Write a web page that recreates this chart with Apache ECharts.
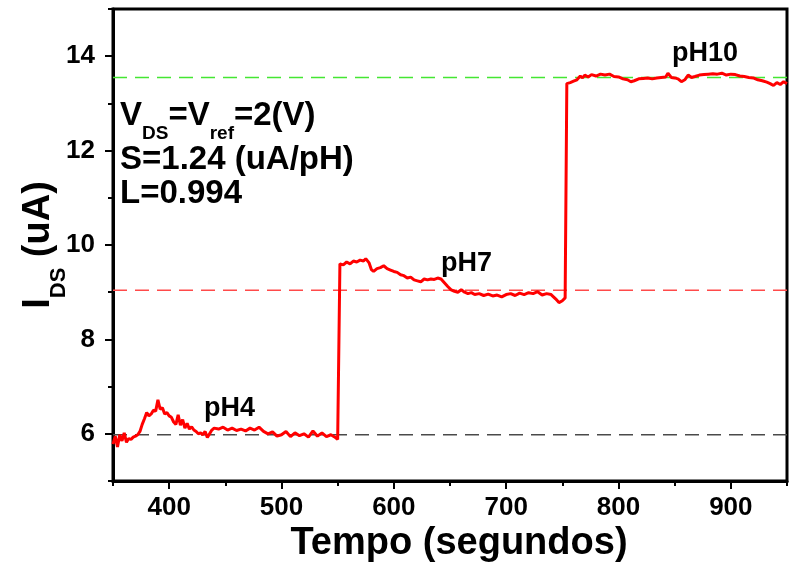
<!DOCTYPE html>
<html>
<head>
<meta charset="utf-8">
<script src="https://cdn.jsdelivr.net/npm/echarts@6/dist/echarts.min.js"></script>
<style>
html,body{margin:0;padding:0;background:#fff;}
#chart{width:792px;height:566px;}
</style>
</head>
<body>
<div id="chart"></div>
<script>
// Time (s) and drain current I_DS (uA)
const timeS = [
350,352,354,356,358,360,362,364,366,368,370,372,374,376,378,380,382,384,386,388,390,392,394,396,398,400,402,404,406,408,410,412,414,416,418,420,422,424,426,428,430,432,434,436,438,440,444,448,452,456,460,464,468,472,476,480,484,488,492,496,500,504,508,512,516,520,524,528,532,536,540,544,548,550,551.5,
552,555,558,561,564,567,570,573,575,578,580,582,585,588,591,594,597,600,603,606,609,612,615,618,621,624,627,630,633,636,639,642,645,648,651,654,657,660,663,666,669,672,676,680,684,688,692,696,700,704,708,712,716,720,724,728,732,736,740,744,747,750,752.5,
754,757,760,763,766,768,770,773,776,780,784,788,792,796,800,804,808,811,814,818,822,826,830,834,838,842,844,847,850,853,856,859,862,865,868,872,876,880,884,888,892,896,900,904,908,912,916,920,924,928,932,935,938,941,944,947,950
];
const currentUA = [
5.78,5.95,5.72,5.98,5.85,6.02,5.82,5.9,5.88,5.93,5.95,5.98,6.05,6.2,6.32,6.45,6.38,6.42,6.5,6.48,6.72,6.52,6.55,6.42,6.45,6.38,6.35,6.25,6.2,6.4,6.18,6.3,6.12,6.22,6.1,6.15,6.08,6.05,6.0,6.02,5.98,6.05,5.92,6.0,6.08,6.12,6.1,6.14,6.08,6.12,6.07,6.1,6.06,6.12,6.08,6.14,6.05,6.0,6.04,5.95,5.98,6.05,5.94,6.02,5.96,6.0,5.93,6.06,5.95,6.02,5.94,5.98,5.92,5.88,5.86,
9.6,9.58,9.64,9.6,9.66,9.64,9.68,9.66,9.71,9.62,9.48,9.44,9.5,9.52,9.56,9.5,9.47,9.44,9.42,9.37,9.35,9.3,9.32,9.26,9.24,9.22,9.28,9.26,9.28,9.27,9.3,9.28,9.2,9.12,9.05,9.02,9.0,9.05,9.0,8.97,8.99,8.95,8.97,8.93,8.96,8.92,8.94,8.9,8.95,8.97,8.93,8.98,8.95,8.99,8.97,9.01,8.94,8.97,8.95,8.86,8.78,8.82,8.88,
13.42,13.44,13.47,13.5,13.58,13.54,13.6,13.56,13.61,13.58,13.62,13.6,13.62,13.57,13.56,13.52,13.5,13.46,13.48,13.52,13.53,13.54,13.52,13.54,13.55,13.56,13.64,13.55,13.54,13.52,13.46,13.5,13.6,13.55,13.57,13.6,13.61,13.62,13.63,13.62,13.64,13.6,13.62,13.61,13.58,13.57,13.55,13.54,13.5,13.48,13.45,13.42,13.38,13.44,13.4,13.46,13.42
];
// Reference (mean) levels
const refLevels = [5.98, 9.04, 13.55];
const refRange = [350, 950];
// Axis ticks
const xLabelTicks = [400, 500, 600, 700, 800, 900];
const xMinorTicks = [350, 450, 550, 650, 750, 850, 950];
const yLabelTicks = [6, 8, 10, 12, 14];
const yMinorTicks = [5, 7, 9, 11, 13, 15];
const phLabels = ['pH4', 'pH7', 'pH10'];

const FONT = '"Liberation Sans", Arial, sans-serif';
const chart = echarts.init(document.getElementById('chart'), null, {renderer: 'canvas'});

const seriesData = timeS.map((t, i) => [t, currentUA[i]]);
const refColors = ['#4a4a4a', '#ff4a4a', '#44e633'];

const option = {
  animation: false,
  backgroundColor: '#ffffff',
  grid: {left: 113, right: 5, top: 9, bottom: 85, show: true, borderColor: '#000', borderWidth: 3, outerBoundsMode: 'none'},
  xAxis: [{
    type: 'value', min: 350, max: 950, position: 'bottom',
    name: 'Tempo (segundos)', nameLocation: 'middle', nameGap: 44, nameMoveOverlap: false,
    nameTextStyle: {fontFamily: FONT, fontWeight: 'bold', fontSize: 38, color: '#000', padding: [0, 0, 0, 18]},
    axisLine: {show: true, onZero: false, lineStyle: {color: '#000', width: 3}},
    axisTick: {show: true, inside: false, length: 5, customValues: xMinorTicks, lineStyle: {color: '#000', width: 2}},
    axisLabel: {show: true, customValues: xLabelTicks, margin: 14, fontFamily: FONT, fontWeight: 'bold', fontSize: 26, color: '#000'},
    splitLine: {show: false}
  }, {
    type: 'value', min: 350, max: 950, position: 'bottom',
    axisLine: {show: false, onZero: false},
    axisTick: {show: true, inside: false, length: 8, customValues: xLabelTicks, lineStyle: {color: '#000', width: 2}},
    axisLabel: {show: false},
    splitLine: {show: false}
  }],
  yAxis: [{
    type: 'value', min: 5, max: 15, position: 'left',
    name: '{i|I}{s|DS}{t| (uA)}', nameLocation: 'middle', nameGap: 43, nameRotate: 90, nameMoveOverlap: false,
    nameTextStyle: {
      rich: {
        i: {fontFamily: FONT, fontWeight: 'bold', fontSize: 38, color: '#000', padding: [0, 0, 12, 0], verticalAlign: 'bottom'},
        s: {fontFamily: FONT, fontWeight: 'bold', fontSize: 22, color: '#000', verticalAlign: 'bottom'},
        t: {fontFamily: FONT, fontWeight: 'bold', fontSize: 38, color: '#000', padding: [0, 0, 12, 0], verticalAlign: 'bottom'}
      }
    },
    axisLine: {show: true, onZero: false, lineStyle: {color: '#000', width: 3}},
    axisTick: {show: true, inside: false, length: 5, customValues: yMinorTicks, lineStyle: {color: '#000', width: 2}},
    axisLabel: {show: true, customValues: yLabelTicks, margin: 18, fontFamily: FONT, fontWeight: 'bold', fontSize: 26, color: '#000'},
    splitLine: {show: false}
  }, {
    type: 'value', min: 5, max: 15, position: 'left',
    axisLine: {show: false, onZero: false},
    axisTick: {show: true, inside: false, length: 8, customValues: yLabelTicks, lineStyle: {color: '#000', width: 2}},
    axisLabel: {show: false},
    splitLine: {show: false}
  }],
  series: [
    ...refLevels.map((v, i) => ({
      type: 'line', xAxisIndex: 0, yAxisIndex: 0, symbol: 'none', silent: true,
      data: refRange.map(t => [t, v]),
      lineStyle: {color: refColors[i], width: 1.5, type: [14, 8]},
      z: 1
    })),
    {
      type: 'line', xAxisIndex: 0, yAxisIndex: 0, symbol: 'none',
      data: seriesData,
      lineStyle: {color: '#ff0000', width: 3},
      z: 3
    }
  ],
  graphic: [
    {type: 'text', left: 120, top: 99, z: 10, style: {
      text: '{a|V}{s|DS}{a|=V}{s|ref}{a|=2(V)}',
      rich: {
        a: {fontFamily: FONT, fontWeight: 'bold', fontSize: 33, fill: '#000', padding: [0, 0, 11, 0], verticalAlign: 'bottom'},
        s: {fontFamily: FONT, fontWeight: 'bold', fontSize: 19, fill: '#000', verticalAlign: 'bottom'}
      }
    }},
    {type: 'text', left: 120, top: 143, z: 10, style: {text: 'S=1.24 (uA/pH)', fontFamily: FONT, fontWeight: 'bold', fontSize: 33, fill: '#000'}},
    {type: 'text', left: 120, top: 177, z: 10, style: {text: 'L=0.994', fontFamily: FONT, fontWeight: 'bold', fontSize: 33, fill: '#000'}},
    {type: 'text', left: 204, top: 395, z: 10, style: {text: phLabels[0], fontFamily: FONT, fontWeight: 'bold', fontSize: 27, fill: '#000'}},
    {type: 'text', left: 441, top: 250, z: 10, style: {text: phLabels[1], fontFamily: FONT, fontWeight: 'bold', fontSize: 27, fill: '#000'}},
    {type: 'text', left: 672, top: 40, z: 10, style: {text: phLabels[2], fontFamily: FONT, fontWeight: 'bold', fontSize: 27, fill: '#000'}}
  ]
};
chart.setOption(option);
</script>
</body>
</html>
